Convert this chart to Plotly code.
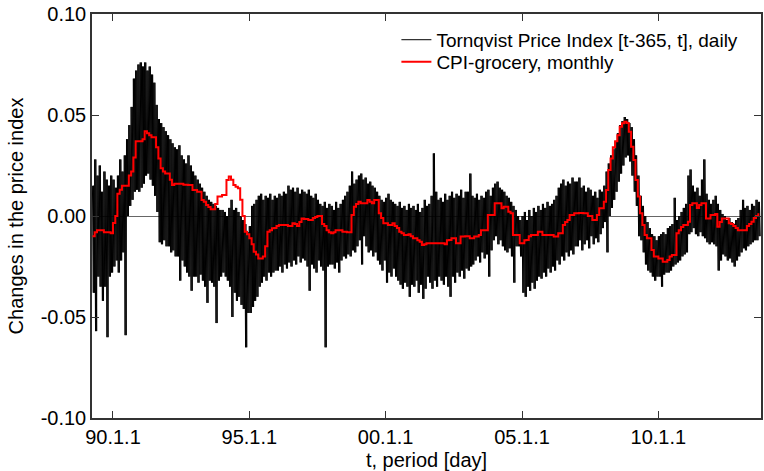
import pandas as pd
import plotly.graph_objects as go

# ---------------- data ----------------
# Monthly periods covered by the chart: 1989-04 .. 2013-09 (294 months)
start_month = "1989-04-01"
n_months = 294

# Daily Tornqvist index: monthly high / low envelope of the daily values
tpi_high = [
    0.015, 0.028, 0.020, 0.025, 0.012, 0.022, 0.018, 0.015, 0.020,                 # 1989 Apr-Dec
    0.018, 0.014, 0.020, 0.028, 0.022, 0.030, 0.038, 0.045, 0.054, 0.068, 0.072, 0.075,  # 1990
    0.076, 0.074, 0.076, 0.072, 0.074, 0.070, 0.066, 0.055, 0.048, 0.046, 0.044, 0.042,  # 1991
    0.040, 0.038, 0.036, 0.034, 0.033, 0.035, 0.030, 0.028, 0.026, 0.030, 0.025, 0.022,  # 1992
    0.020, 0.018, 0.016, 0.014, 0.012, 0.010, 0.008, 0.007, 0.006, 0.005, 0.004, 0.003,  # 1993
    0.003, 0.002, 0.000, 0.004, 0.008, 0.003, 0.004, 0.002, 0.000, -0.002, -0.004, -0.008,  # 1994
    -0.005, 0.005, 0.006, 0.008, 0.010, 0.011, 0.008, 0.010, 0.009, 0.011, 0.008, 0.010,  # 1995
    0.009, 0.011, 0.010, 0.012, 0.011, 0.015, 0.013, 0.014, 0.012, 0.014, 0.011, 0.013,  # 1996
    0.012, 0.011, 0.013, 0.010, 0.009, 0.011, 0.008, 0.006, 0.005, 0.007, 0.004, 0.006,  # 1997
    0.005, 0.003, 0.007, 0.004, 0.006, 0.008, 0.010, 0.012, 0.015, 0.022, 0.016, 0.018,  # 1998
    0.020, 0.021, 0.018, 0.019, 0.016, 0.017, 0.015, 0.014, 0.012, 0.010, 0.008, 0.007,  # 1999
    0.009, 0.011, 0.008, 0.007, 0.006, 0.005, 0.007, 0.004, 0.005, 0.003, 0.006, 0.004,  # 2000
    0.005, 0.003, 0.006, 0.002, 0.004, 0.008, 0.005, 0.006, 0.010, 0.031, 0.012, 0.008,  # 2001
    0.009, 0.007, 0.011, 0.008, 0.010, 0.012, 0.009, 0.011, 0.010, 0.013, 0.009, 0.012,  # 2002
    0.012, 0.021, 0.010, 0.009, 0.011, 0.008, 0.010, 0.009, 0.012, 0.013, 0.010, 0.014,  # 2003
    0.016, 0.017, 0.014, 0.013, 0.012, 0.010, 0.009, 0.007, 0.005, 0.003, 0.000, -0.002,  # 2004
    0.000, 0.002, -0.002, 0.003, 0.000, 0.004, 0.002, 0.005, 0.003, 0.006, 0.004, 0.007,  # 2005
    0.005, 0.006, 0.008, 0.010, 0.014, 0.016, 0.018, 0.015, 0.017, 0.016, 0.019, 0.017,  # 2006
    0.017, 0.019, 0.014, 0.015, 0.012, 0.014, 0.013, 0.010, 0.012, 0.009, 0.013, 0.012,  # 2007
    0.015, 0.022, 0.026, 0.030, 0.033, 0.037, 0.041, 0.045, 0.047, 0.049, 0.048, 0.046,  # 2008
    0.044, 0.038, 0.030, 0.020, 0.010, 0.005, 0.000, -0.003, -0.006, -0.009, -0.010, -0.012,  # 2009
    -0.010, -0.009, -0.008, -0.009, -0.006, -0.005, -0.004, 0.009, -0.002, 0.000, 0.002, 0.004,  # 2010
    0.006, 0.020, 0.023, 0.015, 0.012, 0.014, 0.010, 0.018, 0.028, 0.011, 0.008, 0.006,  # 2011
    0.008, 0.010, 0.006, 0.003, 0.001, 0.000, -0.002, -0.001, -0.003, -0.004, -0.002, -0.001,  # 2012
    0.003, 0.008, 0.004, 0.005, 0.003, 0.006, 0.005, 0.008, 0.007,                 # 2013 Jan-Sep
]
tpi_low = [
    -0.038, -0.057, -0.030, -0.035, -0.042, -0.035, -0.060, -0.030, -0.028,
    -0.025, -0.022, -0.028, -0.022, -0.018, -0.059, 0.000, 0.005, 0.008, 0.012, 0.013, 0.012,
    0.014, 0.016, 0.020, 0.021, 0.018, 0.015, 0.010, 0.002, -0.013, -0.014, -0.012, -0.015,
    -0.015, -0.018, -0.017, -0.020, -0.020, -0.032, -0.022, -0.025, -0.028, -0.030, -0.037, -0.030,
    -0.030, -0.033, -0.029, -0.032, -0.035, -0.043, -0.032, -0.033, -0.035, -0.053, -0.032, -0.030,
    -0.028, -0.030, -0.032, -0.035, -0.050, -0.038, -0.042, -0.040, -0.044, -0.046, -0.065, -0.048,
    -0.048, -0.045, -0.042, -0.040, -0.035, -0.033, -0.030, -0.032, -0.028, -0.030, -0.028, -0.027,
    -0.027, -0.025, -0.028, -0.024, -0.026, -0.023, -0.025, -0.022, -0.024, -0.020, -0.023, -0.021,
    -0.022, -0.025, -0.037, -0.024, -0.026, -0.028, -0.022, -0.025, -0.027, -0.065, -0.025, -0.024,
    -0.024, -0.026, -0.023, -0.028, -0.022, -0.020, -0.021, -0.019, -0.020, -0.017, -0.018, -0.015,
    -0.012, -0.024, -0.010, -0.015, -0.018, -0.017, -0.020, -0.018, -0.022, -0.024, -0.027, -0.022,
    -0.033, -0.028, -0.030, -0.026, -0.030, -0.032, -0.034, -0.036, -0.033, -0.035, -0.040, -0.034,
    -0.035, -0.032, -0.038, -0.034, -0.041, -0.036, -0.030, -0.033, -0.036, -0.032, -0.035, -0.030,
    -0.032, -0.034, -0.030, -0.035, -0.040, -0.030, -0.033, -0.028, -0.030, -0.027, -0.031, -0.026,
    -0.027, -0.025, -0.024, -0.022, -0.020, -0.023, -0.018, -0.021, -0.019, -0.030, -0.017, -0.012,
    -0.010, -0.014, -0.012, -0.015, -0.017, -0.018, -0.016, -0.020, -0.033, -0.015, -0.015, -0.020,
    -0.038, -0.040, -0.035, -0.037, -0.033, -0.036, -0.032, -0.030, -0.031, -0.028, -0.030, -0.026,
    -0.028, -0.025, -0.027, -0.022, -0.024, -0.020, -0.022, -0.018, -0.020, -0.017, -0.019, -0.015,
    -0.015, -0.012, -0.017, -0.014, -0.012, -0.016, -0.010, -0.014, -0.011, -0.013, -0.009, -0.006,
    -0.003, -0.018, 0.000, 0.004, 0.008, 0.012, 0.017, 0.021, 0.025, 0.029, 0.030, 0.027,
    0.020, 0.012, 0.005, -0.010, -0.012, -0.018, -0.024, -0.027, -0.028, -0.030, -0.032, -0.030,
    -0.030, -0.035, -0.029, -0.028, -0.028, -0.027, -0.025, -0.024, -0.023, -0.022, -0.020, -0.019,
    -0.018, -0.009, -0.008, -0.006, -0.009, -0.010, -0.008, -0.010, -0.011, -0.013, -0.014, -0.013,
    -0.014, -0.015, -0.027, -0.022, -0.019, -0.020, -0.022, -0.021, -0.023, -0.025, -0.022, -0.020,
    -0.018, -0.016, -0.017, -0.015, -0.014, -0.013, -0.012, -0.012, -0.010,
]

# CPI-grocery, monthly
cpi_grocery = [
    -0.010, -0.008, -0.007, -0.007, -0.007, -0.008, -0.008, -0.008, -0.0085,
    -0.0035, 0.000, 0.011, 0.013, 0.015, 0.015, 0.015, 0.020, 0.022, 0.029, 0.037, 0.037,
    0.037, 0.038, 0.042, 0.041, 0.040, 0.039, 0.039, 0.034, 0.0285, 0.0236, 0.022, 0.021,
    0.021, 0.018, 0.0153, 0.016, 0.016, 0.016, 0.016, 0.0155, 0.0155, 0.0153, 0.0153, 0.0129,
    0.0129, 0.012, 0.012, 0.0079, 0.007, 0.0054, 0.0045, 0.0033, 0.0033, 0.006, 0.0096, 0.0096,
    0.0104, 0.0104, 0.0178, 0.0195, 0.018, 0.0153, 0.0145, 0.0137, 0.008, 0.000, -0.0078, -0.009,
    -0.011, -0.014, -0.0177, -0.019, -0.021, -0.021, -0.020, -0.015, -0.0078, -0.007, -0.0061, -0.006,
    -0.005, -0.0045, -0.0045, -0.0045, -0.0045, -0.005, -0.005, -0.0036, -0.004, -0.005, -0.003, -0.0012,
    -0.0015, -0.0015, -0.002, -0.002, -0.001, -0.0005, 0.000, 0.000, -0.004, -0.005, -0.007, -0.008,
    -0.0086, -0.008, -0.007, -0.007, -0.007, -0.0078, -0.0078, -0.008, -0.008, 0.0005, 0.0046, 0.006,
    0.007, 0.0063, 0.0063, 0.0063, 0.0079, 0.007, 0.0063, 0.0079, 0.0079, 0.0013, -0.001, -0.0036,
    -0.0036, -0.0045, -0.0045, -0.0036, -0.005, -0.006, -0.0078, -0.0085, -0.0094, -0.0094, -0.009, -0.010,
    -0.011, -0.011, -0.012, -0.0127, -0.0143, -0.014, -0.0135, -0.0135, -0.0135, -0.0135, -0.0135, -0.0135,
    -0.0135, -0.0135, -0.014, -0.012, -0.0119, -0.011, -0.011, -0.0135, -0.0135, -0.0102, -0.0102, -0.010,
    -0.010, -0.011, -0.011, -0.0102, -0.0102, -0.0094, -0.007, -0.007, -0.007, 0.0005, 0.0005, 0.0005,
    0.0063, 0.0063, 0.0063, 0.0038, 0.0046, 0.0046, 0.0021, 0.0013, -0.0094, -0.0094, -0.0094, -0.0135,
    -0.0135, -0.012, -0.0119, -0.010, -0.0094, -0.0094, -0.0094, -0.0078, -0.0078, -0.0094, -0.0094, -0.0094,
    -0.0094, -0.0094, -0.0102, -0.0102, -0.0086, -0.0086, -0.0045, -0.003, -0.002, 0.0005, 0.0005, 0.0013,
    0.0013, 0.0015, 0.0015, 0.0013, 0.0013, 0.000, 0.000, -0.002, -0.002, 0.0005, 0.0038, 0.0038,
    0.007, 0.0129, 0.0228, 0.0285, 0.034, 0.037, 0.040, 0.0442, 0.0459, 0.0467, 0.046, 0.0417,
    0.0343, 0.0277, 0.0178, 0.0096, 0.0013, -0.0045, -0.0094, -0.011, -0.011, -0.0168, -0.020, -0.020,
    -0.021, -0.021, -0.0226, -0.0226, -0.0218, -0.020, -0.0193, -0.0193, -0.0086, -0.007, -0.0055, -0.0045,
    -0.0045, -0.0028, 0.0054, 0.0063, 0.0063, 0.004, 0.0054, 0.0063, 0.0063, -0.0012, -0.0012, 0.0005,
    0.0005, 0.001, -0.0053, -0.003, -0.0012, -0.0012, -0.0012, -0.0036, -0.004, -0.005, -0.006, -0.007,
    -0.007, -0.007, -0.007, -0.005, -0.004, -0.0028, -0.001, 0.000, 0.0013,
]

x_tick_dates = ["1990-01-01", "1995-01-01", "2000-01-01", "2005-01-01", "2010-01-01"]
x_tick_labels = ["90.1.1", "95.1.1", "00.1.1", "05.1.1", "10.1.1"]
y_tick_vals = [-0.10, -0.05, 0.00, 0.05, 0.10]
y_tick_labels = ["-0.10", "-0.05", "0.00", "0.05", "0.10"]

# ---------------- build traces ----------------
months = pd.date_range(start_month, periods=n_months, freq="MS")
# daily trace drawn as a dense swing between each month's high and low
swing_hours = [0, 90, 180, 270, 360, 450, 540, 630]   # 8 evenly spaced stops per month

tpi_x, tpi_y = [], []
for m0, hi, lo in zip(months, tpi_high, tpi_low):
    for k, h in enumerate(swing_hours):
        tpi_x.append(m0 + pd.Timedelta(hours=h))
        tpi_y.append(hi if k % 2 == 0 else lo)

FONT = "Liberation Sans, Arial, sans-serif"
FS = 20
LFS = 19

fig = go.Figure()
fig.add_trace(go.Scatter(
    x=tpi_x, y=tpi_y, mode="lines",
    line=dict(color="black", width=1),
    name="Tornqvist Price Index [t-365, t], daily",
    legend="legend",
))
fig.add_trace(go.Scatter(
    x=months, y=cpi_grocery, mode="lines",
    line=dict(color="#ff0000", width=2, shape="hv"),
    name="CPI-grocery, monthly",
    legend="legend2",
))

axis_common = dict(
    showline=True, linecolor="#333333", linewidth=1.5, mirror="ticks",
    ticks="inside", ticklen=7, tickcolor="#333333", tickwidth=1,
    showgrid=False, tickfont=dict(family=FONT, size=FS, color="black"),
)

legend_common = dict(
    xanchor="left", yanchor="top",
    bgcolor="rgba(0,0,0,0)", borderwidth=0,
    font=dict(family=FONT, size=LFS, color="black"),
)

fig.update_layout(
    width=764, height=471,
    margin=dict(l=92, r=1, t=14, b=53),
    paper_bgcolor="white", plot_bgcolor="white",
    font=dict(family=FONT, size=FS, color="black"),
    showlegend=True,
    legend=dict(x=0.455, y=0.983, **legend_common),
    legend2=dict(x=0.455, y=0.9285, **legend_common),
    xaxis=dict(
        **axis_common,
        type="date",
        range=["1989-03-26", "2013-10-07"],
        tickvals=x_tick_dates, ticktext=x_tick_labels,
        title=dict(text="t, period [day]", font=dict(family=FONT, size=FS), standoff=6),
        zeroline=False,
    ),
    yaxis=dict(
        **axis_common,
        range=[-0.10, 0.10],
        tickvals=y_tick_vals, ticktext=y_tick_labels,
        title=dict(text="Changes in the price index", font=dict(family=FONT, size=FS), standoff=12),
        zeroline=True, zerolinecolor="#666666", zerolinewidth=1,
    ),
)

fig.write_html("out.html")
